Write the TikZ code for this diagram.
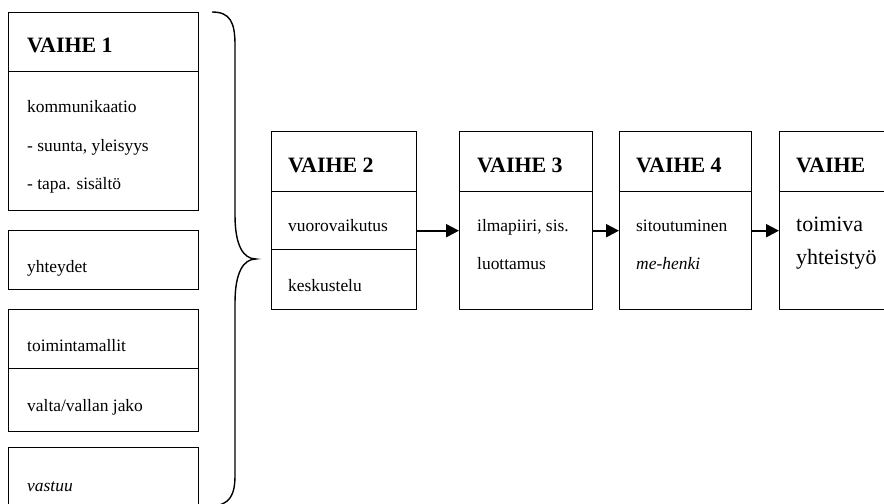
\documentclass[tikz,border=0pt]{standalone}
\usepackage{fontspec}
\setmainfont{Liberation Serif}
\usetikzlibrary{arrows.meta}
\begin{document}
\begin{tikzpicture}[x=1bp,y=-1bp,
  cell/.style={draw, line width=1.4bp, rectangle, inner sep=0pt, anchor=north west},
  head/.style={anchor=base west, inner sep=0pt, font=\fontsize{22}{24}\selectfont\bfseries},
  txt/.style={anchor=base west, inner sep=0pt, font=\fontsize{17.5}{20}\selectfont},
  bigtxt/.style={anchor=base west, inner sep=0pt, font=\fontsize{22}{24}\selectfont},
  arr/.style={line width=2bp, -{Triangle[length=13bp,width=13bp]}},
  brace/.style={line width=1.4bp}]
\clip (0,0) rectangle (884,504);

% stage 1 column of boxes
\node[cell, minimum width=190bp, minimum height=59bp] (s1h) at (8,12) {};
\node[cell, minimum width=190bp, minimum height=139bp] (s1b) at (8,71) {};
\node[cell, minimum width=190bp, minimum height=59bp] (yh) at (8,230) {};
\node[cell, minimum width=190bp, minimum height=59bp] (tm) at (8,309) {};
\node[cell, minimum width=190bp, minimum height=63bp] (vj) at (8,368) {};
\node[cell, minimum width=190bp, minimum height=70bp] (va) at (8,447) {};

\node[head] (t1h) at (27,53) {VAIHE 1};
\node[txt] (t1a) at (27,113) {kommunikaatio};
\node[txt] (t1b) at (27,152) {- suunta, yleisyys};
\node[txt] (t1c) at (27,190) {- tapa. sisältö};
\node[txt] (tyh) at (27,273) {yhteydet};
\node[txt] (ttm) at (27,352) {toimintamallit};
\node[txt] (tvj) at (27,411) {valta/vallan jako};
\node[txt, font=\fontsize{17.5}{20}\selectfont\itshape] (tva) at (27,491) {vastuu};

% curly brace gathering stage 1
\draw[brace] (212,12) .. controls (230,12) and (235,22) .. (235,45)
  -- (235,215) .. controls (235,245) and (243,259) .. (256,259)
  .. controls (243,259) and (235,273) .. (235,303)
  -- (235,475) .. controls (235,495) and (230,505) .. (212,506);

% stage 2
\node[cell, minimum width=145bp, minimum height=60bp] (s2h) at (271,131) {};
\node[cell, minimum width=145bp, minimum height=58bp] (s2a) at (271,191) {};
\node[cell, minimum width=145bp, minimum height=60bp] (s2b) at (271,249) {};
\node[head] (t2h) at (288,173) {VAIHE 2};
\node[txt] (t2a) at (288,232) {vuorovaikutus};
\node[txt] (t2b) at (288,292) {keskustelu};

% stage 3
\node[cell, minimum width=133bp, minimum height=60bp] (s3h) at (459,131) {};
\node[cell, minimum width=133bp, minimum height=118bp] (s3b) at (459,191) {};
\node[head] (t3h) at (477,173) {VAIHE 3};
\node[txt] (t3a) at (477,232) {ilmapiiri, sis.};
\node[txt] (t3b) at (477,270) {luottamus};

% stage 4
\node[cell, minimum width=132bp, minimum height=60bp] (s4h) at (619,131) {};
\node[cell, minimum width=132bp, minimum height=118bp] (s4b) at (619,191) {};
\node[head] (t4h) at (636,173) {VAIHE 4};
\node[txt] (t4a) at (636,232) {sitoutuminen};
\node[txt, font=\fontsize{17.5}{20}\selectfont\itshape] (t4b) at (636,270) {me-henki};

% stage 5
\node[cell, minimum width=130bp, minimum height=60bp] (s5h) at (779,131) {};
\node[cell, minimum width=130bp, minimum height=118bp] (s5b) at (779,191) {};
\node[head] (t5h) at (796,173) {VAIHE};
\node[bigtxt] (t5a) at (796,232) {toimiva};
\node[bigtxt] (t5b) at (796,265) {yhteistyö};

% arrows between stages
\draw[arr] ([yshift=-10bp]s2a.east) -- ([yshift=20bp]s3b.west);
\draw[arr] ([yshift=20bp]s3b.east) -- ([yshift=20bp]s4b.west);
\draw[arr] ([yshift=20bp]s4b.east) -- ([yshift=20bp]s5b.west);
\end{tikzpicture}
\end{document}
